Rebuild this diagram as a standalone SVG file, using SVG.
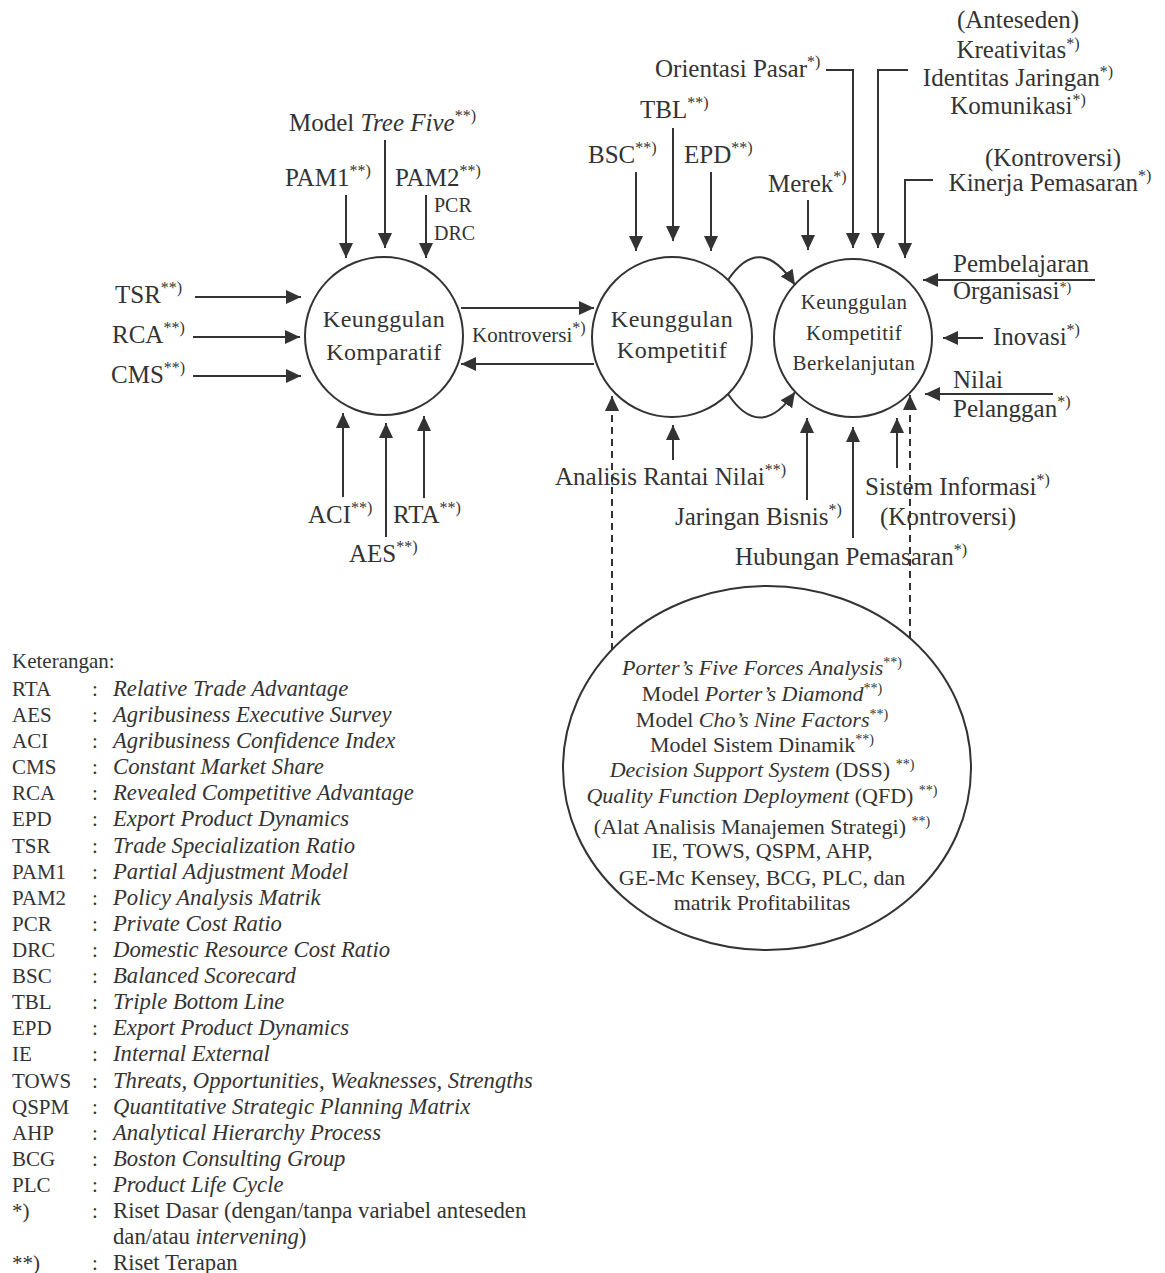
<svg xmlns="http://www.w3.org/2000/svg" width="1165" height="1273" viewBox="0 0 1165 1273">
<defs>
<marker id="ah" markerWidth="15" markerHeight="14" refX="15" refY="7" orient="auto" markerUnits="userSpaceOnUse">
<path d="M0,0 L15,7 L0,14 z" fill="#333"/>
</marker>
<style>
text{font-family:"Liberation Serif","Times New Roman",serif;fill:#333;}
.l{font-size:25px;}
.s{font-size:20px;}
.k{font-size:21px;}
.c{font-size:24px;letter-spacing:0.5px;text-anchor:middle;}
.c3{font-size:21px;letter-spacing:0.4px;text-anchor:middle;}
.b{font-size:22px;text-anchor:middle;}
.m{text-anchor:middle;}
.g{font-size:21px;}
.gd{font-size:22.7px;}
.i{font-style:italic;}
.sup{font-size:16px;}
.sb{font-size:14px;}
.ln{stroke:#333;stroke-width:2;fill:none;}
.ar{marker-end:url(#ah);}
.d{stroke-dasharray:7,5;}
.node{fill:none;stroke:#333;stroke-width:2;}
</style>
</defs>
<rect width="1165" height="1273" fill="#fff"/>

<g id="connectors">
<line class="ln ar" x1="195" y1="297" x2="301" y2="297"/>
<line class="ln ar" x1="193" y1="337" x2="300" y2="337"/>
<line class="ln ar" x1="193" y1="376" x2="301" y2="376"/>
<line class="ln ar" x1="346" y1="195" x2="346" y2="258"/>
<line class="ln ar" x1="385" y1="140" x2="385" y2="248"/>
<line class="ln ar" x1="426" y1="195" x2="426" y2="258"/>
<line class="ln ar" x1="343" y1="497" x2="343" y2="413"/>
<line class="ln ar" x1="386" y1="537" x2="386" y2="423"/>
<line class="ln ar" x1="424" y1="498" x2="424" y2="416"/>
<line class="ln ar" x1="461" y1="308" x2="594" y2="308"/>
<line class="ln ar" x1="594" y1="364" x2="461" y2="364"/>
<line class="ln ar" x1="636" y1="172" x2="636" y2="251"/>
<line class="ln ar" x1="673" y1="128" x2="673" y2="241"/>
<line class="ln ar" x1="711" y1="172" x2="711" y2="251"/>
<path class="ln ar" d="M728,280 Q760,232 795,285"/>
<path class="ln ar" d="M728,394 Q760,442 795,392"/>
<line class="ln ar" x1="808" y1="200" x2="808" y2="250"/>
<polyline class="ln ar" points="826,70 853,70 853,248"/>
<polyline class="ln ar" points="908,70 878,70 878,248"/>
<polyline class="ln ar" points="933,180 905,180 905,258"/>
<line class="ln ar" x1="1095" y1="280" x2="923" y2="280"/>
<line class="ln ar" x1="983" y1="338" x2="943" y2="338"/>
<line class="ln ar" x1="1053" y1="394" x2="925" y2="394"/>
<line class="ln ar" x1="807" y1="500" x2="807" y2="418"/>
<line class="ln ar" x1="853" y1="538" x2="853" y2="427"/>
<line class="ln ar" x1="897" y1="468" x2="897" y2="418"/>
<line class="ln ar" x1="673" y1="460" x2="673" y2="425"/>
<line class="ln ar d" x1="612" y1="650" x2="612" y2="396"/>
<line class="ln ar d" x1="910" y1="638" x2="910" y2="395"/>
</g>

<g id="node-komparatif">
<circle class="node" cx="384" cy="336" r="79"/>
<text class="c" x="384" y="327">Keunggulan</text>
<text class="c" x="384" y="360">Komparatif</text>
</g>
<g id="node-kompetitif">
<circle class="node" cx="672" cy="337" r="80"/>
<text class="c" x="672" y="327">Keunggulan</text>
<text class="c" x="672" y="358">Kompetitif</text>
</g>
<g id="node-berkelanjutan">
<circle class="node" cx="853" cy="338" r="79"/>
<text class="c3" x="854" y="309">Keunggulan</text>
<text class="c3" x="854" y="340">Kompetitif</text>
<text class="c3" x="854" y="370">Berkelanjutan</text>
</g>
<g id="node-alat">
<ellipse class="node" cx="767" cy="768" rx="204" ry="182"/>
<text class="b" x="762" y="675"><tspan class="i">Porter’s Five Forces Analysis</tspan><tspan class="sb" dy="-8">**)</tspan></text>
<text class="b" x="762" y="701">Model <tspan class="i">Porter’s Diamond</tspan><tspan class="sb" dy="-8">**)</tspan></text>
<text class="b" x="762" y="727">Model <tspan class="i">Cho’s Nine Factors</tspan><tspan class="sb" dy="-8">**)</tspan></text>
<text class="b" x="762" y="752">Model Sistem Dinamik<tspan class="sb" dy="-8">**)</tspan></text>
<text class="b" x="762" y="777"><tspan class="i">Decision Support System</tspan> (DSS) <tspan class="sb" dy="-8">**)</tspan></text>
<text class="b" x="762" y="803"><tspan class="i">Quality Function Deployment</tspan> (QFD) <tspan class="sb" dy="-8">**)</tspan></text>
<text class="b" x="762" y="834">(Alat Analisis Manajemen Strategi) <tspan class="sb" dy="-8">**)</tspan></text>
<text class="b" x="762" y="858">IE, TOWS, QSPM, AHP,</text>
<text class="b" x="762" y="885">GE-Mc Kensey, BCG, PLC, dan</text>
<text class="b" x="762" y="910">matrik Profitabilitas</text>
</g>

<g id="node-treefive"><text class="l" x="289" y="131">Model <tspan class="i">Tree Five</tspan><tspan class="sup" dy="-10">**)</tspan></text></g>
<g id="node-pam1"><text class="l" x="285" y="186">PAM1<tspan class="sup" dy="-10">**)</tspan></text></g>
<g id="node-pam2"><text class="l" x="395" y="186">PAM2<tspan class="sup" dy="-10">**)</tspan></text>
<text class="s" x="434" y="212">PCR</text><text class="s" x="434" y="240">DRC</text></g>
<g id="node-tsr"><text class="l" x="115" y="303">TSR<tspan class="sup" dy="-10">**)</tspan></text></g>
<g id="node-rca"><text class="l" x="112" y="343">RCA<tspan class="sup" dy="-10">**)</tspan></text></g>
<g id="node-cms"><text class="l" x="111" y="383">CMS<tspan class="sup" dy="-10">**)</tspan></text></g>
<g id="node-aci"><text class="l" x="308" y="523">ACI<tspan class="sup" dy="-10">**)</tspan></text></g>
<g id="node-rta"><text class="l" x="393" y="523">RTA<tspan class="sup" dy="-10">**)</tspan></text></g>
<g id="node-aes"><text class="l" x="349" y="562">AES<tspan class="sup" dy="-10">**)</tspan></text></g>
<g id="node-kontroversi"><text class="k" x="472" y="342">Kontroversi<tspan class="sup" dy="-9">*)</tspan></text></g>
<g id="node-tbl"><text class="l" x="640" y="118">TBL<tspan class="sup" dy="-10">**)</tspan></text></g>
<g id="node-bsc"><text class="l" x="588" y="163">BSC<tspan class="sup" dy="-10">**)</tspan></text></g>
<g id="node-epd"><text class="l" x="684" y="163">EPD<tspan class="sup" dy="-10">**)</tspan></text></g>
<g id="node-orientasi"><text class="l" x="655" y="77">Orientasi Pasar<tspan class="sup" dy="-10">*)</tspan></text></g>
<g id="node-merek"><text class="l" x="768" y="192">Merek<tspan class="sup" dy="-10">*)</tspan></text></g>
<g id="node-anteseden">
<text class="l m" x="1018" y="28">(Anteseden)</text>
<text class="l m" x="1018" y="58">Kreativitas<tspan class="sup" dy="-9">*)</tspan></text>
<text class="l m" x="1018" y="86">Identitas Jaringan<tspan class="sup" dy="-9">*)</tspan></text>
<text class="l m" x="1018" y="114">Komunikasi<tspan class="sup" dy="-9">*)</tspan></text>
</g>
<g id="node-kinerja">
<text class="l m" x="1053" y="166">(Kontroversi)</text>
<text class="l m" x="1050" y="191">Kinerja Pemasaran<tspan class="sup" dy="-10">*)</tspan></text>
</g>
<g id="node-pembelajaran">
<text class="l" x="953" y="272">Pembelajaran</text>
<text class="l" x="953" y="299">Organisasi<tspan class="sb" dy="-7">*)</tspan></text>
</g>
<g id="node-inovasi"><text class="l" x="993" y="345">Inovasi<tspan class="sup" dy="-10">*)</tspan></text></g>
<g id="node-nilai">
<text class="l" x="953" y="388">Nilai</text>
<text class="l" x="953" y="417">Pelanggan<tspan class="sup" dy="-10">*)</tspan></text>
</g>
<g id="node-rantai"><text class="l" x="555" y="485">Analisis Rantai Nilai<tspan class="sup" dy="-10">**)</tspan></text></g>
<g id="node-jaringan"><text class="l" x="675" y="525">Jaringan Bisnis<tspan class="sup" dy="-10">*)</tspan></text></g>
<g id="node-hubungan"><text class="l" x="735" y="565">Hubungan Pemasaran<tspan class="sup" dy="-10">*)</tspan></text></g>
<g id="node-sistem">
<text class="l" x="865" y="495">Sistem Informasi<tspan class="sup" dy="-10">*)</tspan></text>
<text class="l" x="880" y="525">(Kontroversi)</text>
</g>

<g id="legend">
<text class="g" x="12" y="668">Keterangan:</text>
<text class="g" x="12" y="696">RTA</text><text class="g" x="92" y="696">:</text><text class="gd i" x="113" y="696">Relative Trade Advantage</text>
<text class="g" x="12" y="722">AES</text><text class="g" x="92" y="722">:</text><text class="gd i" x="113" y="722">Agribusiness Executive Survey</text>
<text class="g" x="12" y="748">ACI</text><text class="g" x="92" y="748">:</text><text class="gd i" x="113" y="748">Agribusiness Confidence Index</text>
<text class="g" x="12" y="774">CMS</text><text class="g" x="92" y="774">:</text><text class="gd i" x="113" y="774">Constant Market Share</text>
<text class="g" x="12" y="800">RCA</text><text class="g" x="92" y="800">:</text><text class="gd i" x="113" y="800">Revealed Competitive Advantage</text>
<text class="g" x="12" y="826">EPD</text><text class="g" x="92" y="826">:</text><text class="gd i" x="113" y="826">Export Product Dynamics</text>
<text class="g" x="12" y="853">TSR</text><text class="g" x="92" y="853">:</text><text class="gd i" x="113" y="853">Trade Specialization Ratio</text>
<text class="g" x="12" y="879">PAM1</text><text class="g" x="92" y="879">:</text><text class="gd i" x="113" y="879">Partial Adjustment Model</text>
<text class="g" x="12" y="905">PAM2</text><text class="g" x="92" y="905">:</text><text class="gd i" x="113" y="905">Policy Analysis Matrik</text>
<text class="g" x="12" y="931">PCR</text><text class="g" x="92" y="931">:</text><text class="gd i" x="113" y="931">Private Cost Ratio</text>
<text class="g" x="12" y="957">DRC</text><text class="g" x="92" y="957">:</text><text class="gd i" x="113" y="957">Domestic Resource Cost Ratio</text>
<text class="g" x="12" y="983">BSC</text><text class="g" x="92" y="983">:</text><text class="gd i" x="113" y="983">Balanced Scorecard</text>
<text class="g" x="12" y="1009">TBL</text><text class="g" x="92" y="1009">:</text><text class="gd i" x="113" y="1009">Triple Bottom Line</text>
<text class="g" x="12" y="1035">EPD</text><text class="g" x="92" y="1035">:</text><text class="gd i" x="113" y="1035">Export Product Dynamics</text>
<text class="g" x="12" y="1061">IE</text><text class="g" x="92" y="1061">:</text><text class="gd i" x="113" y="1061">Internal External</text>
<text class="g" x="12" y="1088">TOWS</text><text class="g" x="92" y="1088">:</text><text class="gd i" x="113" y="1088">Threats, Opportunities, Weaknesses, Strengths</text>
<text class="g" x="12" y="1114">QSPM</text><text class="g" x="92" y="1114">:</text><text class="gd i" x="113" y="1114">Quantitative Strategic Planning Matrix</text>
<text class="g" x="12" y="1140">AHP</text><text class="g" x="92" y="1140">:</text><text class="gd i" x="113" y="1140">Analytical Hierarchy Process</text>
<text class="g" x="12" y="1166">BCG</text><text class="g" x="92" y="1166">:</text><text class="gd i" x="113" y="1166">Boston Consulting Group</text>
<text class="g" x="12" y="1192">PLC</text><text class="g" x="92" y="1192">:</text><text class="gd i" x="113" y="1192">Product Life Cycle</text>
<text class="g" x="12" y="1218">*)</text><text class="g" x="92" y="1218">:</text><text class="gd" x="113" y="1218">Riset Dasar (dengan/tanpa variabel anteseden</text>
<text class="gd" x="113" y="1244">dan/atau <tspan class="i">intervening</tspan>)</text>
<text class="g" x="12" y="1270">**)</text><text class="g" x="92" y="1270">:</text><text class="gd" x="113" y="1270">Riset Terapan</text>
</g>
</svg>
